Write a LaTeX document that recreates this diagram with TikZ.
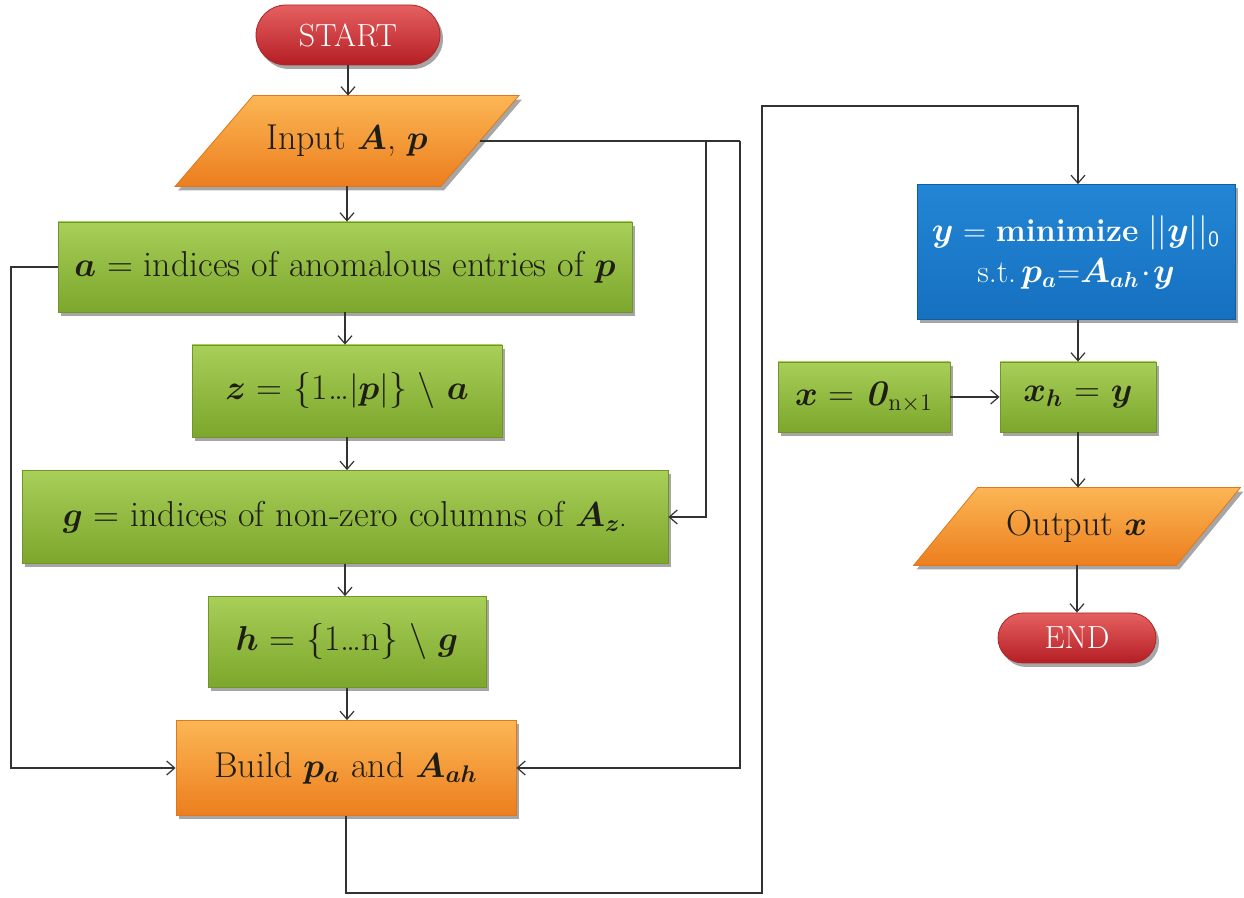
\documentclass[tikz,border=0pt]{standalone}
\usepackage{bm}
\usetikzlibrary{arrows.meta,shadows,calc}
\pgfdeclarelayer{background}
\pgfsetlayers{background,main}

\definecolor{gtop}{RGB}{168,207,88}
\definecolor{gbot}{RGB}{124,166,44}
\definecolor{gline}{RGB}{112,150,42}
\definecolor{otop}{RGB}{252,182,84}
\definecolor{obot}{RGB}{236,126,30}
\definecolor{oline}{RGB}{222,120,32}
\definecolor{rtop}{RGB}{230,96,96}
\definecolor{rbot}{RGB}{180,30,36}
\definecolor{rline}{RGB}{170,40,40}
\definecolor{btop}{RGB}{34,134,212}
\definecolor{bbot}{RGB}{22,112,192}
\definecolor{bline}{RGB}{16,92,160}
\definecolor{txt}{RGB}{30,30,20}
\definecolor{wire}{RGB}{50,50,50}

\newcommand{\bi}[1]{$\bm{#1}$}

\tikzset{
  x=0.5pt, y=-0.5pt,
  boxtext/.style={font=\fontsize{18}{21}\selectfont, text=txt, align=center, inner sep=0pt},
  shade3d/.style={drop shadow={shadow xshift=1.5pt, shadow yshift=-2pt, opacity=0.35, fill=black}},
  greenbox/.style={boxtext, draw=gline, line width=0.4pt, top color=gtop, bottom color=gbot, shade3d},
  orangebox/.style={boxtext, draw=oline, line width=0.4pt, top color=otop, bottom color=obot, shade3d},
  bluebox/.style={boxtext, font=\fontsize{16}{19.5}\selectfont, text=white, draw=bline, line width=0.4pt, top color=btop, bottom color=bbot, shade3d},
  pill/.style={boxtext, text=white, font=\fontsize{16}{19}\selectfont, draw=rline, line width=0.4pt, top color=rtop, bottom color=rbot, shade3d},
  iotext/.style={boxtext},
  iofill/.style={draw=oline, line width=0.4pt, top color=otop, bottom color=obot, shade3d},
  arr/.style={draw=wire, line width=0.6pt, -{Straight Barb[length=4pt,width=7pt]}},
  wireline/.style={draw=wire, line width=0.6pt},
}

\begin{document}
\begin{tikzpicture}
\useasboundingbox (0,0) rectangle (1244,898);

% terminals
\node[pill, minimum width=92pt, minimum height=30pt, rounded corners=15pt] (start) at (348,35) {START};
\node[pill, minimum width=79pt, minimum height=25pt, rounded corners=12.5pt] (end) at (1077,638) {END};

% input / output
\node[iotext, minimum width=132.5pt, minimum height=45pt] (in) at (347,141) {Input \bi{A}, \bi{p}};
\node[iotext, minimum width=131pt, minimum height=38.5pt] (out) at (1077,526.5) {Output \bi{x}};
\begin{pgfonlayer}{background}
  \path[iofill] ([xshift=19.5pt]in.north west) -- ([xshift=19.5pt]in.north east)
     -- ([xshift=-19.5pt]in.south east) -- ([xshift=-19.5pt]in.south west) -- cycle;
  \path[iofill] ([xshift=16pt]out.north west) -- ([xshift=16pt]out.north east)
     -- ([xshift=-16pt]out.south east) -- ([xshift=-16pt]out.south west) -- cycle;
\end{pgfonlayer}

% process boxes, left column
\node[greenbox, minimum width=287pt, minimum height=45pt] (a) at (345,267)
  {\bi{a} = indices of anomalous entries of \bi{p}};
\node[greenbox, minimum width=155pt, minimum height=46pt] (z) at (347,391)
  {\bi{z} = \{1\ldots$|\bm{p}|$\} \textbackslash\ \bi{a}};
\node[greenbox, minimum width=323pt, minimum height=46.5pt] (g) at (345,517)
  {\bi{g} = indices of non-zero columns of $\bm{A}_{\bm{z}\cdot}$};
\node[greenbox, minimum width=139pt, minimum height=45.5pt] (h) at (347,642)
  {\bi{h} = \{1\ldots n\} \textbackslash\ \bi{g}};
\node[orangebox, minimum width=170pt, minimum height=47.5pt] (build) at (346,768)
  {Build $\bm{p}_{\bm{a}}$ and $\bm{A}_{\bm{ah}}$};

% right column
\node[bluebox, minimum width=159pt, minimum height=67.5pt] (solve) at (1076,252)
  {$\bm{y}$ = \textbf{minimize} $||\bm{y}||_{\mathsf{0}}$\\[1pt]
   s.t.\,$\bm{p}_{\bm{a}}$=$\bm{A}_{\bm{ah}}\!\cdot\!\bm{y}$};
\node[greenbox, minimum width=86pt, minimum height=35pt] (x0) at (864,397)
  {\bi{x} = \textbf{\textit{0}}$_{\mathrm{n}\times1}$};
\node[greenbox, minimum width=78pt, minimum height=35pt] (xh) at (1078,397)
  {$\bm{x}_{\bm{h}}$ = \bi{y}};

% routing points
\coordinate (k0) at (706,141);
\coordinate (k1) at (740,141);
\coordinate (k2) at (11,267);
\coordinate (k3) at (762,893);
\coordinate (k4) at (762,106);

% main flow
\draw[arr] (start.south) -- (start.south |- in.north);
\draw[arr] (in.south) -- (in.south |- a.north);
\draw[arr] (a.south) -- (a.south |- z.north);
\draw[arr] (z.south) -- (z.south |- g.north);
\draw[arr] (g.south) -- (g.south |- h.north);
\draw[arr] (h.south) -- (h.south |- build.north);

% side connections
\draw[wireline] (in.east) -- (k1);
\draw[arr] (k1) |- (build.east);
\draw[arr] (k0) |- (g.east);
\draw[arr] (a.west) -- (k2) |- (build.west);

% to the solver
\draw[arr] (build.south) |- (k3) -- (k4) -| (xh.north |- solve.north);
\draw[arr] (xh.north |- solve.south) -- (xh.north);
\draw[arr] (x0.east) -- (xh.west);
\draw[arr] (xh.south) -- (xh.south |- out.north);
\draw[arr] (out.south) -- (out.south |- end.north);
\end{tikzpicture}
\end{document}
